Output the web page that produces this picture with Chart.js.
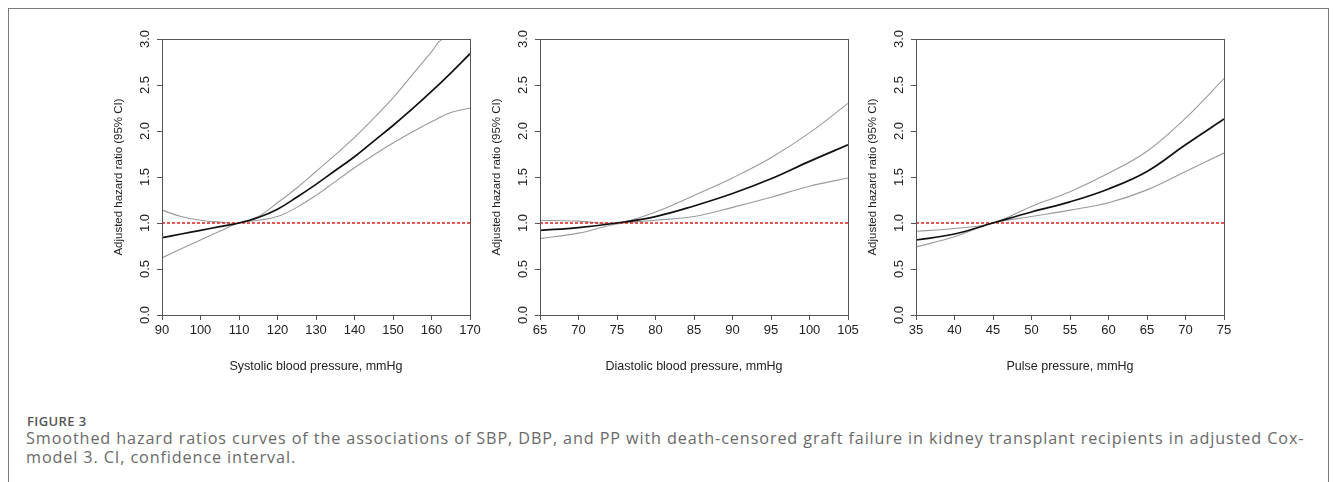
<!DOCTYPE html>
<html>
<head>
<meta charset="utf-8">
<script src="https://cdn.jsdelivr.net/npm/chart.js@4.4.1/dist/chart.umd.min.js"></script>
<style>
  html, body { margin: 0; padding: 0; background: #fff; }
  #page { position: relative; width: 1333px; height: 482px; overflow: hidden; }
  #frame { position: absolute; left: 8px; top: 8px; width: 1321px; height: 520px; border: 1px solid #7a7a7a; box-sizing: border-box; }
  .panel { position: absolute; top: 20px; width: 388px; height: 370px; }
  #figlabel { position: absolute; left: 27px; top: 412px; font: 600 13px "Open Sans", "Noto Sans", sans-serif; color: #555; letter-spacing: 0.4px; }
  #caption { position: absolute; left: 26px; top: 429px; font: 16.2px/18.5px "Open Sans", "Noto Sans", sans-serif; color: #6a6a6a; white-space: nowrap; }
</style>
</head>
<body>
<div id="page">
  <div id="frame"></div>
  <div class="panel" style="left:102px"><canvas id="sbp"></canvas></div>
  <div class="panel" style="left:480px"><canvas id="dbp"></canvas></div>
  <div class="panel" style="left:856px"><canvas id="pp"></canvas></div>
  <div id="figlabel">FIGURE 3</div>
  <div id="caption"><span id="line1">Smoothed hazard ratios curves of the associations of SBP, DBP, and PP with death-censored graft failure in kidney transplant recipients in adjusted Cox-</span><br>model 3. CI, confidence interval.</div>
</div>
<script>
// y axis (hazard ratio) ticks, shared
const hrTicks = [0.0, 0.5, 1.0, 1.5, 2.0, 2.5, 3.0];

// systolic blood pressure
const sbpX = [90, 95, 100, 105, 110, 115, 120, 125, 130, 135, 140, 145, 150, 155, 160, 165, 170];
const sbpHR = [0.84, 0.88, 0.92, 0.96, 1.0, 1.06, 1.15, 1.28, 1.42, 1.57, 1.72, 1.89, 2.06, 2.24, 2.43, 2.63, 2.84];
const sbpLower = [0.62, 0.72, 0.815, 0.91, 1.0, 1.03, 1.07, 1.17, 1.30, 1.45, 1.60, 1.74, 1.87, 1.99, 2.10, 2.20, 2.25];
const sbpUpperX = [90, 95, 100, 105, 110, 115, 120, 125, 130, 135, 140, 145, 150, 155, 160, 163, 170];
const sbpUpper = [1.14, 1.07, 1.03, 1.01, 1.0, 1.07, 1.22, 1.38, 1.56, 1.74, 1.93, 2.14, 2.36, 2.61, 2.86, 3.0, 3.0];

// diastolic blood pressure
const dbpX = [65, 70, 75, 80, 85, 90, 95, 100, 105];
const dbpHR = [0.92, 0.95, 1.0, 1.07, 1.185, 1.32, 1.48, 1.67, 1.85];
const dbpUpper = [1.03, 1.02, 1.0, 1.12, 1.30, 1.49, 1.71, 1.98, 2.30];
const dbpLower = [0.83, 0.89, 0.99, 1.03, 1.07, 1.17, 1.28, 1.40, 1.49];

// pulse pressure
const ppX = [35, 40, 45, 50, 55, 60, 65, 70, 75];
const ppHR = [0.815, 0.88, 1.0, 1.12, 1.23, 1.37, 1.56, 1.85, 2.13];
const ppUpper = [0.91, 0.94, 1.0, 1.18, 1.34, 1.54, 1.78, 2.14, 2.57];
const ppLower = [0.74, 0.85, 1.0, 1.07, 1.14, 1.22, 1.36, 1.56, 1.76];

const fontFamily = '"Liberation Sans", Arial, sans-serif';

// box, rotated y labels (R style) and axis titles
const axisText = {
  id: 'axisText',
  afterDraw(chart, args, opts) {
    const { ctx, chartArea: a, scales: { y } } = chart;
    ctx.save();
    ctx.strokeStyle = '#555';
    ctx.lineWidth = 1;
    ctx.strokeRect(Math.round(a.left) + 0.5, Math.round(a.top) + 0.5,
      Math.round(a.right - a.left), Math.round(a.bottom - a.top));

    ctx.fillStyle = '#222';
    ctx.textAlign = 'center';
    ctx.textBaseline = 'middle';
    ctx.font = '13px ' + fontFamily;
    hrTicks.forEach(v => {
      ctx.save();
      ctx.translate(a.left - 17, y.getPixelForValue(v));
      ctx.rotate(-Math.PI / 2);
      ctx.fillText(v.toFixed(1), 0, 0);
      ctx.restore();
    });

    ctx.font = '11.5px ' + fontFamily;
    ctx.save();
    ctx.translate(a.left - 43, (a.top + a.bottom) / 2);
    ctx.rotate(-Math.PI / 2);
    ctx.fillText('Adjusted hazard ratio (95% CI)', 0, 0);
    ctx.restore();

    ctx.font = '12.5px ' + fontFamily;
    ctx.fillText(opts.xTitle, (a.left + a.right) / 2, a.bottom + 52);
    ctx.restore();
  }
};

const pts = (xs, ys) => xs.map((x, i) => ({ x, y: ys[i] }));

function drawPanel(id, series, xMin, xMax, xStep, xTitle) {
  const [mid, upper, lower] = series;
  new Chart(document.getElementById(id), {
    type: 'line',
    data: {
      datasets: [
        { data: pts(mid[0], mid[1]), borderColor: '#111', borderWidth: 1.7 },
        { data: [{ x: xMin, y: 1 }, { x: xMax, y: 1 }], borderColor: '#e0201b', borderWidth: 1.3, borderDash: [3, 2], tension: 0 },
        { data: pts(upper[0], upper[1]), borderColor: '#9a9a9a', borderWidth: 1.1 },
        { data: pts(lower[0], lower[1]), borderColor: '#9a9a9a', borderWidth: 1.1 }
      ]
    },
    options: {
      responsive: false,
      animation: false,
      devicePixelRatio: 1,
      layout: { padding: { top: 19, right: 20, left: 0, bottom: 0 } },
      elements: {
        point: { radius: 0 },
        line: { tension: 0.4 }
      },
      plugins: { legend: { display: false }, tooltip: { enabled: false }, axisText: { xTitle } },
      scales: {
        x: {
          type: 'linear', min: xMin, max: xMax,
          afterFit: s => { s.height = 75; },
          border: { display: false },
          grid: { drawOnChartArea: false, tickLength: 5, color: '#555' },
          ticks: { stepSize: xStep, autoSkip: false, maxRotation: 0, padding: 3, color: '#222', font: { family: fontFamily, size: 13 } }
        },
        y: {
          min: 0, max: 3,
          afterFit: s => { s.width = 60; },
          afterBuildTicks: s => { s.ticks = hrTicks.map(v => ({ value: v })); },
          border: { display: false },
          grid: { drawOnChartArea: false, tickLength: 5, color: '#555' },
          ticks: { display: false }
        }
      }
    },
    plugins: [axisText]
  });
}

for (const c of document.querySelectorAll('canvas')) { c.width = 388; c.height = 370; }

drawPanel('sbp', [[sbpX, sbpHR], [sbpUpperX, sbpUpper], [sbpX, sbpLower]], 90, 170, 10, 'Systolic blood pressure, mmHg');
drawPanel('dbp', [[dbpX, dbpHR], [dbpX, dbpUpper], [dbpX, dbpLower]], 65, 105, 5, 'Diastolic blood pressure, mmHg');
drawPanel('pp', [[ppX, ppHR], [ppX, ppUpper], [ppX, ppLower]], 35, 75, 5, 'Pulse pressure, mmHg');

// stretch the caption's first line to the journal's width
const line1 = document.getElementById('line1');
const chars = line1.textContent.length;
const extra = (1279 - line1.getBoundingClientRect().width) / chars;
document.getElementById('caption').style.letterSpacing = extra.toFixed(2) + 'px';
</script>
</body>
</html>
